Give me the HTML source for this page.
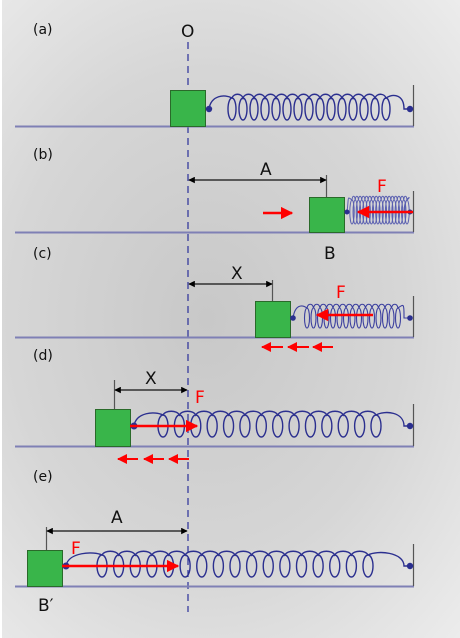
<!DOCTYPE html>
<html><head><meta charset="utf-8">
<style>
html,body{margin:0;padding:0}
body{width:460px;height:638px;overflow:hidden;background:radial-gradient(ellipse at 45% 50%,#c8c8c8 0%,#d6d6d6 55%,#ececec 100%);}
svg{display:block}
text{font-family:"DejaVu Sans","Liberation Sans",sans-serif}
</style></head><body>
<svg id="s" width="460" height="638" viewBox="0 0 460 638" xmlns="http://www.w3.org/2000/svg">
<defs>
<marker id="ar" viewBox="0 0 10 10" refX="9" refY="5" markerWidth="5" markerHeight="5" orient="auto-start-reverse"><path d="M0,0L10,5L0,10z" fill="red"/></marker>
<marker id="ak" viewBox="0 0 10 10" refX="9" refY="5" markerWidth="5" markerHeight="5" orient="auto-start-reverse"><path d="M0,0L10,5L0,10z" fill="#000"/></marker>
</defs>
<rect x="0" y="0" width="2" height="638" fill="#fff"/>
<line x1="188" y1="42" x2="188" y2="612" stroke="#2a2f9a" stroke-width="1.2" stroke-dasharray="7,5"/>
<g font-size="14" fill="#111">
<text x="33" y="34">(a)</text><text x="33" y="159">(b)</text><text x="33" y="258">(c)</text><text x="33" y="360">(d)</text><text x="33" y="481">(e)</text>
</g>
<g font-size="17" fill="#111">
<text x="181" y="37">O</text><text x="260" y="175">A</text><text x="324" y="259">B</text>
<text x="231" y="279">X</text><text x="145" y="384">X</text><text x="111" y="523">A</text><text x="38" y="611">B′</text>
</g>
<g font-size="17" fill="red">
<text x="377" y="192">F</text><text x="336" y="298">F</text><text x="195" y="403">F</text><text x="71" y="554">F</text>
</g>
<g stroke="#7f80b5" stroke-width="2">
<line x1="15" y1="126.5" x2="414" y2="126.5"/><line x1="15" y1="232.5" x2="414" y2="232.5"/>
<line x1="15" y1="337.5" x2="414" y2="337.5"/><line x1="15" y1="446.5" x2="414" y2="446.5"/>
<line x1="15" y1="586.5" x2="414" y2="586.5"/>
</g>
<g stroke="#555" stroke-width="1.2">
<line x1="413.5" y1="85" x2="413.5" y2="126"/><line x1="413.5" y1="191" x2="413.5" y2="232"/>
<line x1="413.5" y1="296" x2="413.5" y2="337"/><line x1="413.5" y1="404" x2="413.5" y2="446"/>
<line x1="413.5" y1="544" x2="413.5" y2="586"/>
<line x1="326.5" y1="175" x2="326.5" y2="197"/><line x1="272.5" y1="280" x2="272.5" y2="301"/>
<line x1="114.5" y1="380" x2="114.5" y2="409"/><line x1="46.5" y1="527" x2="46.5" y2="550"/>
</g>
<g stroke="#111" stroke-width="1.3" marker-start="url(#ak)" marker-end="url(#ak)">
<line x1="189" y1="180" x2="326" y2="180"/><line x1="189" y1="284" x2="272" y2="284"/>
<line x1="115" y1="390" x2="187" y2="390"/><line x1="47" y1="531" x2="187" y2="531"/>
</g>
<g fill="#39b54a" stroke="#2a6a2a" stroke-width="1">
<rect x="170.5" y="90.5" width="35" height="36"/><rect x="309.5" y="197.5" width="35" height="35"/>
<rect x="255.5" y="301.5" width="35" height="36"/><rect x="95.5" y="409.5" width="35" height="37"/>
<rect x="27.5" y="550.5" width="35" height="36"/>
</g>
<g id="springs" fill="none" stroke="#2b2f8f" stroke-width="1.4"></g>
<g fill="#2b2f8f">
<circle cx="209" cy="109" r="3.2"/><circle cx="410" cy="109" r="3.2"/>
<circle cx="347" cy="212" r="2.5"/><circle cx="410" cy="212" r="2.5"/>
<circle cx="293" cy="318" r="2.8"/><circle cx="410" cy="318" r="2.8"/>
<circle cx="134" cy="426" r="3.5"/><circle cx="410" cy="426" r="3.2"/>
<circle cx="66" cy="566" r="3.5"/><circle cx="410" cy="566" r="3.2"/>
</g>
<g stroke="red" stroke-width="2.5" marker-end="url(#ar)">
<line x1="413" y1="212" x2="358" y2="212"/><line x1="263" y1="213" x2="292" y2="213"/>
<line x1="373" y1="315" x2="317" y2="315"/>
<line x1="130" y1="426" x2="197" y2="426"/><line x1="62" y1="566" x2="178" y2="566"/>
</g>
<g stroke="red" stroke-width="2" marker-end="url(#ar)">
<line x1="283" y1="347" x2="262" y2="347"/><line x1="309" y1="347" x2="288" y2="347"/><line x1="333" y1="347" x2="313" y2="347"/>
<line x1="138" y1="459" x2="118" y2="459"/><line x1="164" y1="459" x2="144" y2="459"/><line x1="189" y1="459" x2="169" y2="459"/>
</g>
</svg>
<script>
var NS="http://www.w3.org/2000/svg";
function add(tag,attrs){var e=document.createElementNS(NS,tag);for(var k in attrs)e.setAttribute(k,attrs[k]);document.getElementById("springs").appendChild(e);return e;}
function spring(x1,c1,c2,x2,y,h,n,rx,w,col){
  var st={};if(w)st["stroke-width"]=w;if(col)st["stroke"]=col;
  var p=(c2-c1)/(n-1), top=y-h+1, bot=y+h-1, cy=(top+bot)/2, ry=(bot-top)/2;
  for(var i=0;i<n;i++){var a=Object.assign({cx:c1+p*i,cy:cy,rx:rx,ry:ry},st);add("ellipse",a);}
  var d="M"+x1+","+y+" C"+(x1+2)+","+(top-3)+" "+(c1-rx-3)+","+(top-4)+" "+c1+","+top;
  for(var i=0;i<n-1;i++){var a=c1+p*i,b=a+p;d+=" C"+(a+p*0.15)+","+(top-5)+" "+(b-p*0.15)+","+(top-5)+" "+b+","+top;}
  d+=" C"+(c2+rx+4)+","+(top-5)+" "+(x2-6)+","+(top-3)+" "+(x2-6)+","+y+" L"+x2+","+y;
  add("path",Object.assign({d:d},st));
}
spring(209,232,386,410,109,12,15,4);
spring(347,352,407,410,212,13,18,2.2,1,"#5a5fb0");
spring(293,307,398,410,318,11,15,2.5,1.1,"#3b3f9f");
spring(134,163,376,410,426,12,14,5);
spring(66,102,368,410,566,12,17,5);
</script>
</body></html>
